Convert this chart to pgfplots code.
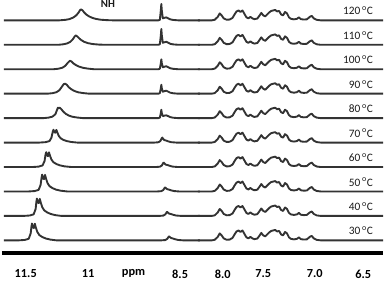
\documentclass[border=0pt]{standalone}
\usepackage{fontspec}
\setmainfont{Carlito}
\usepackage{pgfplots}
\usepackage{pgfplotstable}
\pgfplotsset{compat=1.18}
\tikzset{tlab/.style={font=\fontsize{11.5}{13}\selectfont, inner sep=0pt, text=black!90}}
\pgfplotsset{spec/.style={line width=1.9bp, color=black!80, line join=round, mark=none}}

% aromatic region (shared by all temperatures): x in px, h = height above baseline
\pgfplotstableread{
x h
198 0
212 0
215 0.6
218 3.5
220 7
222 5
224 2
227 0.6
230 0.8
233 2.5
235 6
237 9
239 10
241 8.5
243 10
245 6.5
247 3
249 2
251 3.5
253 2
255 1.2
258 1.8
260 4.5
262 7.5
264 5
266 4
268 6
270 8
272 9.5
274 10
276 10.5
278 9
280 9.5
282 6
284 5
286 8.5
288 7
290 3
292 1.5
295 1
298 1.5
300 3
302 1.2
305 0.8
308 1
311 3.5
313 4.5
315 2
318 0.5
322 0
385 0
}\arom

\pgfplotstableread{
x h
2 0
58 0
64 0.5
68 1.2
72 2.8
75 5
77.5 8
79 10.5
80 11
81.5 10
83 8
85 6
88 4
91 2.6
95 1.4
100 0.6
106 0.2
112 0
158 0
159.5 0.5
160.5 10
161 16.5
161.5 10
162.5 2
164 2.5
166 3
168 2
170 1
173 0.4
178 0
200 0
}\tA

\pgfplotstableread{
x h
2 0
57 0
62 0.5
66 1.4
69 3
71.5 5.5
73.5 8.5
74.5 9.5
76 8.5
78 6.5
80 4.8
83 3
87 1.6
92 0.7
98 0.2
104 0
158 0
159.5 0.5
160.5 9.6
161 16
161.5 9.6
162.5 2
164 2.5
166 3
168 2
170 1
173 0.4
178 0
200 0
}\tB

\pgfplotstableread{
x h
2 0
52 0
57 0.5
61 1.5
64 3.5
66.5 6.5
68.5 8.5
70 8
72 6
75 4
78 2.6
82 1.4
87 0.6
93 0
158 0
159.5 0.5
160.5 6
161 10
161.5 6
162.5 2
164 2.5
166 3
168 2
170 1
173 0.4
178 0
200 0
}\tC

\pgfplotstableread{
x h
2 0
46 0
51 0.5
55 1.5
58 3.5
60.5 7
62.5 9.8
64 10
65.5 9
67.5 6.5
70 4.5
73 2.8
77 1.4
82 0.6
88 0
158 0
159.5 0.5
160.5 5.4
161 9
161.5 5.4
162.5 2
164 2.5
166 3
168 2
170 1
173 0.4
178 0
200 0
}\tD

\pgfplotstableread{
x h
2 0
42 0
47 0.5
51 1.5
54 4
55.5 8
56.5 10.5
57.5 10
58.5 10.5
60 9
62 6.5
64.5 4.3
67.5 2.6
71 1.4
76 0.6
82 0
158 0
159.5 0.5
160.5 5
161 8.5
161.5 5
162.5 2
164 2.5
166 2.8
168 2
170 1
173 0.4
178 0
200 0
}\tE

\pgfplotstableread{
x h
2 0
38 0
44 0.4
48 1.5
50 5
51.3 11
52 13
53 10.5
53.8 10
55 12.8
56 10
57.5 6.5
59.5 4.2
62 2.7
65.5 1.5
70 0.6
76 0
154 0
158 0.3
160 1.5
161.5 4.5
162 5
163 3.5
164 2.5
166 2
168 1.2
171 0.4
176 0
200 0
}\tF

\pgfplotstableread{
x h
2 0
31 0
37 0.4
41 1.6
43 6
44 12.5
44.7 15
45.7 11.5
46.5 11
47.5 14.8
48.5 11.5
50 7.5
52 4.8
55 3
58.5 1.7
63 0.7
70 0
155.5 0
159.5 0.3
161.5 1.5
163 4.2
163.5 4.5
164.5 3.2
165.5 2.4
167.5 1.9
169.5 1.2
172.5 0.4
177.5 0
200 0
}\tG

\pgfplotstableread{
x h
2 0
27 0
33 0.4
37 1.6
39 6.5
40 14
40.6 17
41.6 13
42.5 12.5
43.5 16.8
44.5 13
46 8.5
48 5.4
51 3.4
54.5 1.9
59 0.8
66 0
157 0
161 0.3
163 1.5
164.5 3.8
165 4
166 3
167 2.3
169 1.8
171 1.1
174 0.4
179 0
200 0
}\tH

\pgfplotstableread{
x h
2 0
22 0
28 0.4
32 1.6
34 7
34.8 14.5
35.3 17.5
36.3 13.5
37.2 13
38.2 17.2
39.2 13.5
40.7 8.8
42.7 5.6
45.7 3.5
49.2 2
53.7 0.8
60 0
159 0
163 0.3
165 1.5
166.5 3.8
167 4
168 3
169 2.3
171 1.8
173 1.1
176 0.4
181 0
200 0
}\tI

\pgfplotstableread{
x h
2 0
17 0
23 0.4
27 1.6
29 7
29.8 14
30.3 17
31.3 13
32.2 12.5
33.2 16.8
34.2 13
35.7 8.5
37.7 5.4
40.7 3.4
44.2 1.9
48.7 0.8
55 0
161 0
165 0.3
167 1.5
168.5 3.8
169 4
170 3
171 2.3
173 1.8
175 1.1
178 0.4
183 0
200 0
}\tJ

\newcommand{\spec}[3]{%
  \addplot[spec] table[x=x, y expr=\thisrow{h}+#2] {#1};
  \addplot[spec] table[x=x, y expr=\thisrow{h}+#2] {\arom};
  \node[tlab, anchor=east] at (axis cs:375,#2+9.5) {#3\,\textsuperscript{o}C};
}

\begin{document}
\begin{tikzpicture}
\begin{axis}[
  scale only axis,
  width=385bp, height=282bp,
  xmin=0, xmax=385, ymin=-24, ymax=258,
  axis x line=middle, axis y line=none,
  x axis line style={-, line width=4bp, black},
  xtick={24,87,133,180,223,264,316,365},
  xticklabels={11.5,11,ppm,8.5,8.0,7.5,7.0,6.5},
  major tick length=0pt,
  xticklabel style={font=\bfseries\fontsize{12.5}{13}\selectfont, yshift=-13.5bp},
  clip=false,
]
\spec{\tA}{235}{120}
\spec{\tB}{210.3}{110}
\spec{\tC}{185.6}{100}
\spec{\tD}{160.9}{90}
\spec{\tE}{136.2}{80}
\spec{\tF}{111.5}{70}
\spec{\tG}{86.8}{60}
\spec{\tH}{62.1}{50}
\spec{\tI}{37.4}{40}
\spec{\tJ}{12.7}{30}
\node[tlab, font=\bfseries\fontsize{11}{12}\selectfont] at (axis cs:107,252) {NH};
\end{axis}
\end{tikzpicture}
\end{document}
